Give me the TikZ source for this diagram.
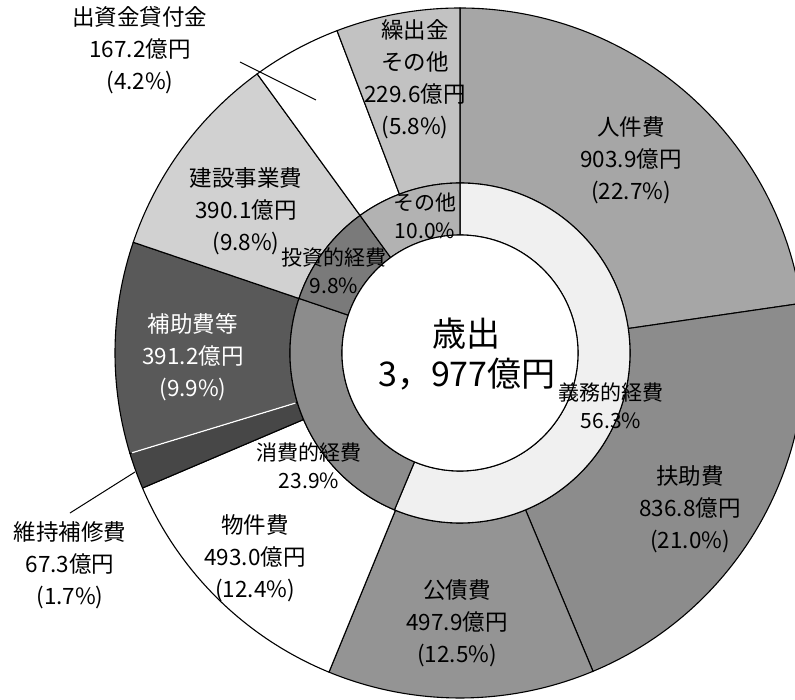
\documentclass[tikz,border=0pt]{standalone}
\usepackage{fontspec}
\setmainfont{Noto Sans CJK JP}
\usepackage{tikz}
\usetikzlibrary{positioning}

\begin{document}
\begin{tikzpicture}[x=1pt, y=1pt,
    seg/.style={draw=black, line width=1.1pt},
    lbl/.style={align=center, font=\fontsize{22.5}{32}\selectfont, inner sep=0pt},
    small/.style={align=center, font=\fontsize{21}{28}\selectfont, inner sep=0pt},
    lead/.style={draw=black, line width=1pt}
]
\useasboundingbox (-460,-346) rectangle (335,353);
\clip (-460,-346) rectangle (335,353);

% outer ring: start/end angle/fill
\foreach \a/\b/\c in {8.28/90/black!35, -67.32/8.28/black!45, -112.32/-67.32/black!42,
    -156.96/-112.32/white, -163.08/-156.96/black!72, -198.72/-163.08/black!65,
    -234/-198.72/black!18, -249.12/-234/white, -270/-249.12/black!24}
  \filldraw[seg, fill=\c] (\a:170) arc (\a:\b:170) -- (\b:345) arc (\b:\a:345) -- cycle;

% inner ring
\foreach \a/\b/\c in {-112.68/90/black!6, -198.72/-112.68/black!45,
    -234/-198.72/black!52, -270/-234/black!30}
  \filldraw[seg, fill=\c] (\a:118) arc (\a:\b:118) -- (\b:170) arc (\b:\a:170) -- cycle;

\filldraw[seg, fill=white] (0,0) circle (118);
\draw[white, line width=1.3pt] (-163.08:172) -- (-163.08:343);

% labels
\node[align=center, inner sep=0pt, font=\fontsize{34}{40}\selectfont] (total) at (7,-1) {歳出\\3，977億円};

\node[lbl] (jinken) at (171,193) {人件費\\903.9億円\\(22.7\%)};
\node[lbl] (fujo) at (230,-156) {扶助費\\836.8億円\\(21.0\%)};
\node[lbl] (kousai) at (-3,-270) {公債費\\497.9億円\\(12.5\%)};
\node[lbl] (bukken) at (-205,-205) {物件費\\493.0億円\\(12.4\%)};
\node[lbl] (iji) at (-390,-212) {維持補修費\\67.3億円\\(1.7\%)};
\node[lbl, text=white] (hojo) at (-267,-4) {補助費等\\391.2億円\\(9.9\%)};
\node[lbl] (kensetsu) at (-214,142) {建設事業費\\390.1億円\\(9.8\%)};
\node[lbl] (shusshi) at (-320,303) {出資金貸付金\\167.2億円\\(4.2\%)};
\node[lbl] (kuridashi) at (-45,274) {繰出金\\その他\\229.6億円\\(5.8\%)};

\node[small] (gimu) at (151,-53) {義務的経費\\56.3\%};
\node[small] (shouhi) at (-151,-113) {消費的経費\\23.9\%};
\node[small] (toushi) at (-126,82) {投資的経費\\9.8\%};
\node[small] (sonota) at (-35,137) {その他\\10.0\%};

% leader lines
\coordinate (shusshi-a) at (-220,291);
\coordinate (shusshi-b) at (-144,253);
\draw[lead] (shusshi-a) -- (shusshi-b);
\coordinate (iji-a) at (-390,-160);
\coordinate (iji-b) at (-325,-119);
\draw[lead] (iji-a) -- (iji-b);

\end{tikzpicture}
\end{document}
